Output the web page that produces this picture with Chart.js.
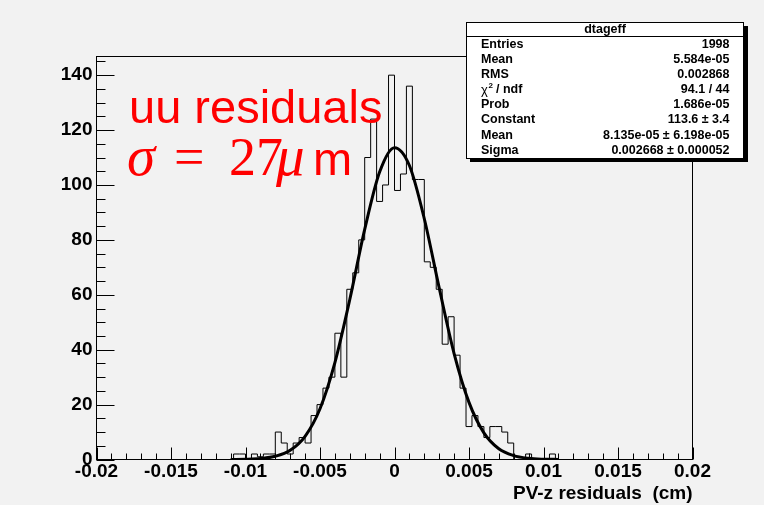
<!DOCTYPE html>
<html>
<head>
<meta charset="utf-8">
<title>dtageff</title>
<script src="https://cdn.jsdelivr.net/npm/chart.js@4.4.0/dist/chart.umd.min.js"></script>
<style>
html, body { margin: 0; padding: 0; background: #f2f2f2; }
canvas { display: block; }
</style>
</head>
<body>
<canvas id="c" width="764" height="505"></canvas>
<script>
// histogram binning (100 bins from -0.02 to 0.02)
var binLow = -0.02
var binWidth = 0.0004
var nBins = 100
var firstFilledBin = 22
// bin contents, bins 22..76
var binCounts = [0, 2, 2, 0, 2, 1, 2, 2,
    10, 6, 2, 6, 8, 6,
    16, 20, 26, 30, 46, 30,
    62, 68, 80,
    110, 124, 94, 100, 140,
    98, 104, 136, 102, 102,
    72, 70, 62, 42, 52,
    38, 26, 12, 16, 12,
    8, 12, 12, 10, 6,
    0, 0, 2, 0, 0, 0, 2]

// gaussian fit curve
var fitX = [-0.011, -0.010, -0.009, -0.008, -0.007, -0.006, -0.005, -0.004, -0.003, -0.002, -0.001, 0,
    0.001, 0.002, 0.003, 0.004, 0.005, 0.006, 0.007, 0.008, 0.009, 0.010, 0.011]
var fitY = [0.02, 0.09, 0.35, 1.16, 3.35, 8.46, 18.5, 35.3, 58.3, 83.8, 104.7, 113.6,
    107.1, 87.7, 62.5, 38.6, 20.8, 9.7, 3.9, 1.4, 0.43, 0.11, 0.03]

// axes
var xTickValues = [-0.02, -0.015, -0.01, -0.005, 0, 0.005, 0.01, 0.015, 0.02]
var xTickLabels = ["-0.02", "-0.015", "-0.01", "-0.005", "0", "0.005", "0.01", "0.015", "0.02"]
var yTickValues = [0, 20, 40, 60, 80, 100, 120, 140]
var yTickLabels = ["0", "20", "40", "60", "80", "100", "120", "140"]
var yAxisMax = 146.8
var xTitle = "PV-z residuals  (cm)"

// stats box
var statsTitle = "dtageff"
var statLabels = ["Entries", "Mean", "RMS", "CHI2", "Prob", "Constant", "Mean", "Sigma"]
var statValues = ["1998", "5.584e-05", "0.002868", "94.1 / 44", "1.686e-05", "113.6 \u00b1 3.4",
    "8.135e-05 \u00b1 6.198e-05", "0.002668 \u00b1 0.000052"]

var SANS = '"Liberation Sans", Arial, Helvetica, sans-serif'
var SERIF = '"Liberation Serif", "Times New Roman", serif'

var histPoints = []
for (var i = 0; i < nBins; i++) {
    var k = i - firstFilledBin
    var v = (k >= 0 && k < binCounts.length) ? binCounts[k] : 0
    histPoints.push({ x: binLow + i * binWidth, y: v })
}
histPoints.push({ x: binLow + nBins * binWidth, y: histPoints[nBins - 1].y })

var fitPoints = fitX.map(function (x, i) { return { x: x, y: fitY[i] } })

function drawStats(ctx) {
    var L = 466, T = 22, R = 744, B = 159
    ctx.save()
    ctx.fillStyle = '#000'
    ctx.fillRect(L + 4, T + 4, R - L, B - T - 1)
    ctx.fillStyle = '#fff'
    ctx.fillRect(L, T, R - L, B - T)
    ctx.strokeStyle = '#000'
    ctx.lineWidth = 1
    ctx.strokeRect(L + 0.5, T + 0.5, R - L - 1, B - T - 1)
    ctx.beginPath()
    ctx.moveTo(L, 36.5); ctx.lineTo(R, 36.5)
    ctx.stroke()

    ctx.fillStyle = '#000'
    ctx.textBaseline = 'middle'
    ctx.font = 'bold 12.5px ' + SANS
    ctx.textAlign = 'center'
    ctx.fillText(statsTitle, (L + R) / 2, 29.5)

    for (var r = 0; r < statLabels.length; r++) {
        var y = 44.5 + r * 15.1
        ctx.textAlign = 'left'
        if (statLabels[r] == "CHI2") {
            ctx.font = '13px ' + SANS
            ctx.fillText('\u03c7', 481, y + 1)
            ctx.font = 'bold 8px ' + SANS
            ctx.fillText('2', 488.5, y - 4)
            ctx.font = 'bold 12.5px ' + SANS
            ctx.fillText('/ ndf', 496, y)
        } else {
            ctx.font = 'bold 12.5px ' + SANS
            ctx.fillText(statLabels[r], 481, y)
        }
        ctx.textAlign = 'right'
        ctx.font = 'bold 12.5px ' + SANS
        ctx.fillText(statValues[r], 729.5, y)
    }
    ctx.restore()
}

var rootPlugin = {
    id: 'rootStyle',
    beforeDraw: function (chart) {
        var ctx = chart.ctx
        ctx.save()
        ctx.fillStyle = '#f2f2f2'
        ctx.fillRect(0, 0, chart.width, chart.height)
        ctx.restore()
    },
    afterDatasetsDraw: function (chart) {
        var ctx = chart.ctx, a = chart.chartArea
        var xs = chart.scales.x, ys = chart.scales.y
        ctx.save()
        ctx.strokeStyle = '#000'
        ctx.lineWidth = 1
        ctx.strokeRect(a.left, a.top, a.right - a.left, a.bottom - a.top)
        ctx.beginPath()
        // x ticks, inward
        for (var k = 0; k <= 40; k++) {
            var px = Math.round(xs.getPixelForValue(-0.02 + k * 0.001)) + 0.5
            var len = (k % 5 == 0) ? 12 : 6
            ctx.moveTo(px, a.bottom); ctx.lineTo(px, a.bottom - len)
        }
        // y ticks, inward
        for (var j = 0; 5 * j <= yAxisMax; j++) {
            var py = Math.round(ys.getPixelForValue(5 * j)) + 0.5
            var ylen = (j % 4 == 0) ? 18 : 9
            ctx.moveTo(a.left, py); ctx.lineTo(a.left + ylen, py)
        }
        ctx.stroke()
        ctx.restore()
    },
    afterDraw: function (chart) {
        var ctx = chart.ctx, a = chart.chartArea
        ctx.save()
        // axis title
        ctx.fillStyle = '#000'
        ctx.font = 'bold 19px ' + SANS
        ctx.textAlign = 'right'
        ctx.textBaseline = 'alphabetic'
        ctx.fillText(xTitle, a.right, 499)

        // red latex label
        ctx.fillStyle = '#ff0000'
        ctx.textAlign = 'left'
        ctx.font = '47px ' + SANS
        ctx.fillText('uu residuals', 129, 123)
        ctx.font = 'italic 57px ' + SERIF
        ctx.fillText('\u03c3', 127, 175)
        ctx.font = '54px ' + SERIF
        ctx.fillText('=', 174, 175)
        ctx.fillText('27', 229, 175)
        ctx.font = 'italic 57px ' + SERIF
        ctx.fillText('\u03bc', 276, 175)
        ctx.font = '47px ' + SANS
        ctx.fillText('m', 313, 175)
        ctx.restore()

        drawStats(ctx)
    }
}

var chart = new Chart(document.getElementById('c'), {
    type: 'line',
    data: {
        datasets: [{
            label: 'fit',
            data: fitPoints,
            borderColor: '#000',
            borderWidth: 3,
            pointRadius: 0,
            cubicInterpolationMode: 'monotone',
            fill: false,
            order: 0
        }, {
            label: statsTitle,
            data: histPoints,
            borderColor: '#000',
            borderWidth: 1,
            pointRadius: 0,
            stepped: 'before',
            fill: false,
            order: 1
        }]
    },
    options: {
        responsive: false,
        animation: false,
        events: [],
        layout: { padding: { left: 0, top: 56.5, right: 71.5, bottom: 0 } },
        plugins: { legend: { display: false }, tooltip: { enabled: false } },
        scales: {
            x: {
                type: 'linear', min: -0.02, max: 0.02,
                afterBuildTicks: function (s) { s.ticks = xTickValues.map(function (v) { return { value: v } }) },
                afterFit: function (s) { s.height = 45.5 },
                grid: { display: false, drawTicks: false },
                border: { display: false },
                ticks: {
                    autoSkip: false, maxRotation: 0, padding: 1, color: '#000',
                    font: { family: SANS, size: 19, weight: 'bold' },
                    callback: function (v, i) { return xTickLabels[i] }
                }
            },
            y: {
                type: 'linear', min: 0, max: yAxisMax,
                afterBuildTicks: function (s) { s.ticks = yTickValues.map(function (v) { return { value: v } }) },
                afterFit: function (s) { s.width = 96.5 },
                grid: { display: false, drawTicks: false },
                border: { display: false },
                ticks: {
                    padding: 4, color: '#000',
                    font: { family: SANS, size: 19, weight: 'bold' },
                    callback: function (v, i) { return yTickLabels[i] }
                }
            }
        }
    },
    plugins: [rootPlugin]
})
</script>
</body>
</html>
